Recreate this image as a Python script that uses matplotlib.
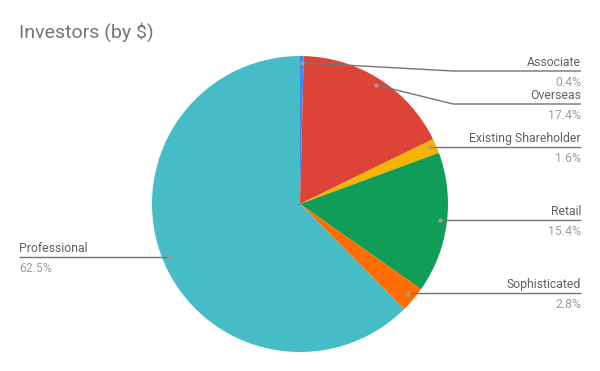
import matplotlib
matplotlib.use("Agg")
import matplotlib.pyplot as plt
import numpy as np

plt.rcParams['font.family'] = ['Roboto', 'DejaVu Sans']

labels = ["Associate", "Overseas", "Existing Shareholder", "Retail", "Sophisticated", "Professional"]
values = [0.4, 17.4, 1.6, 15.4, 2.8, 62.5]
pct_text = ["0.4%", "17.4%", "1.6%", "15.4%", "2.8%", "62.5%"]
colors = ["#4285F4", "#DB4437", "#F4B400", "#0F9D58", "#FF6D00", "#46BDC6"]

# leader line heights (pixels from top) and elbow x
line_y_px = [71, 104, 147, 220, 293, 257]
elbow_px = [453, 453, None, None, None, None]

W, H = 600, 371
cx, cy, R = 300, 204, 148

fig = plt.figure(figsize=(6, 3.71), dpi=100)
ax = fig.add_axes([0, 0, 1, 1])
ax.axis("off")

wedges, _ = ax.pie(values, colors=colors, startangle=90, counterclock=False,
                   radius=1, center=(0, 0), wedgeprops=dict(linewidth=0))
ax.set_aspect("equal")
ax.set_xlim(-cx / R, (W - cx) / R)
ax.set_ylim((cy - H) / R, cy / R)

def py(p):
    return (cy - p) / R

def px(p):
    return (p - cx) / R

right_x = px(581)
left_x = px(19)
for w, lab, pct, ly, ex in zip(wedges, labels, pct_text, line_y_px, elbow_px):
    mid = np.deg2rad((w.theta1 + w.theta2) / 2)
    dx, dy = 0.955 * np.cos(mid), 0.955 * np.sin(mid)
    yl = py(ly)
    if dx >= 0:
        if ex is not None:
            xs = [dx, px(ex), right_x]
            ys = [dy, yl, yl]
        else:
            xs = [dx, right_x]
            ys = [yl, yl]
        tx, ha = right_x, "right"
    else:
        xs = [dx, left_x]
        ys = [yl, yl]
        tx, ha = left_x, "left"
    ax.plot(xs, ys, color="#757575", lw=1, solid_capstyle="butt")
    ax.plot(dx, dy if ex is not None else yl, "o", color="#9e9e9e", ms=3, mec="none")
    ax.text(tx, yl + 2 / R, lab, ha=ha, va="bottom", fontsize=8.8, color="#616161")
    ax.text(tx, yl - 5 / R, pct, ha=ha, va="top", fontsize=8.8, color="#9e9e9e")

fig.text(19 / W, 1 - 32 / H, "Investors (by $)", ha="left", va="center",
         fontsize=14, color="#757575")

fig.savefig("out.png", dpi=100)
